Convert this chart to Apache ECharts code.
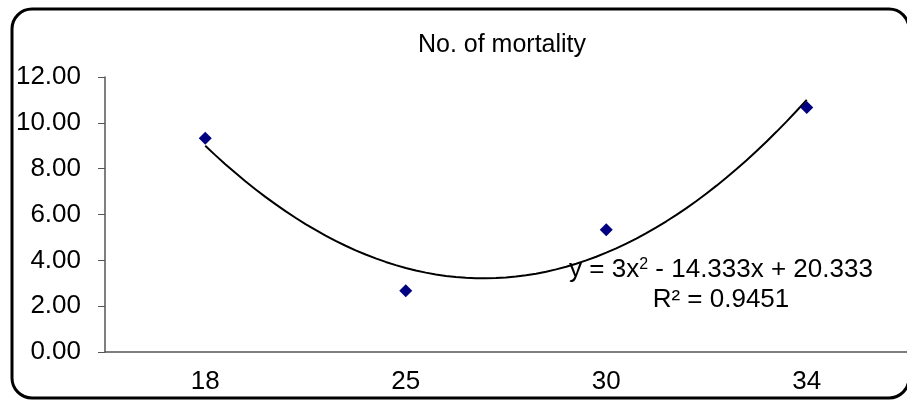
<!DOCTYPE html>
<html>
<head>
<meta charset="utf-8">
<script src="https://cdn.jsdelivr.net/npm/echarts@6/dist/echarts.min.js"></script>
<style>
  html, body { margin: 0; padding: 0; background: #fff; }
  #chart { width: 907px; height: 401px; }
</style>
</head>
<body>
<div id="chart"></div>
<script>
// 年龄分组
var categories = ["18", "25", "30", "34"];
// 死亡数
var mortality = [9.33, 2.67, 5.33, 10.67];
// 趋势线系数 y = a*x^2 + b*x + c (x = 1..4)
var trendCoef = [3, -14.333, 20.333];
var trendLabel = "y = 3x{sup|2} - 14.333x + 20.333";
var r2Label = "R\u00B2 = 0.9451";

var chart = echarts.init(document.getElementById("chart"));

// 趋势线采样点
var trendData = [];
for (var i = 0; i <= 60; i++) {
    var x = 1 + i * 3 / 60;
    trendData.push([x, trendCoef[0] * x * x + trendCoef[1] * x + trendCoef[2]]);
}

var font = "'Liberation Sans', Arial, sans-serif";
var option = {
    animation: false,
    backgroundColor: "#fff",
    title: {
        text: "No. of mortality",
        left: 497,
        top: 28,
        textAlign: "center",
        textStyle: { fontFamily: font, fontSize: 25, fontWeight: "normal", color: "#000" }
    },
    grid: { left: 105, right: 0, top: 77, bottom: 49 },
    xAxis: [{
        type: "category",
        data: categories,
        axisLine: { lineStyle: { color: "#555", width: 1.5 } },
        axisTick: { length: 7, lineStyle: { color: "#555" } },
        axisLabel: { fontFamily: font, fontSize: 26, color: "#000", margin: 17 }
    }, {
        type: "value",
        min: 0.5,
        max: 4.5,
        show: false
    }],
    yAxis: {
        type: "value",
        min: 0,
        max: 12,
        interval: 2,
        axisLine: { show: true, lineStyle: { color: "#555", width: 1.5 } },
        axisTick: { show: true, length: 7, lineStyle: { color: "#555" } },
        splitLine: { show: false },
        axisLabel: {
            fontFamily: font, fontSize: 26, color: "#000", margin: 24,
            formatter: v => v.toFixed(2)
        }
    },
    series: [{
        type: "line",
        xAxisIndex: 1,
        data: trendData,
        showSymbol: false,
        smooth: false,
        lineStyle: { color: "#000", width: 2 },
        z: 2
    }, {
        type: "scatter",
        xAxisIndex: 0,
        data: mortality,
        symbol: "diamond",
        symbolSize: 13,
        itemStyle: { color: "#000080", opacity: 1 },
        z: 3
    }],
    graphic: [{
        type: "rect",
        shape: { x: 12, y: 9, width: 897, height: 389, r: 20 },
        style: { fill: null, stroke: "#000", lineWidth: 3 },
        z: 10
    }, {
        type: "text",
        x: 721,
        y: 270,
        style: {
            text: trendLabel,
            font: "26px " + font,
            fill: "#000",
            align: "center",
            verticalAlign: "middle",
            rich: {
                sup: { fontSize: 16, fontFamily: font, fill: "#000", verticalAlign: "top", padding: [0, 0, 10, 0] }
            }
        },
        z: 10
    }, {
        type: "text",
        x: 721,
        y: 300,
        style: {
            text: r2Label,
            font: "26px " + font,
            fill: "#000",
            align: "center",
            verticalAlign: "middle"
        },
        z: 10
    }]
};
chart.setOption(option);
</script>
</body>
</html>
